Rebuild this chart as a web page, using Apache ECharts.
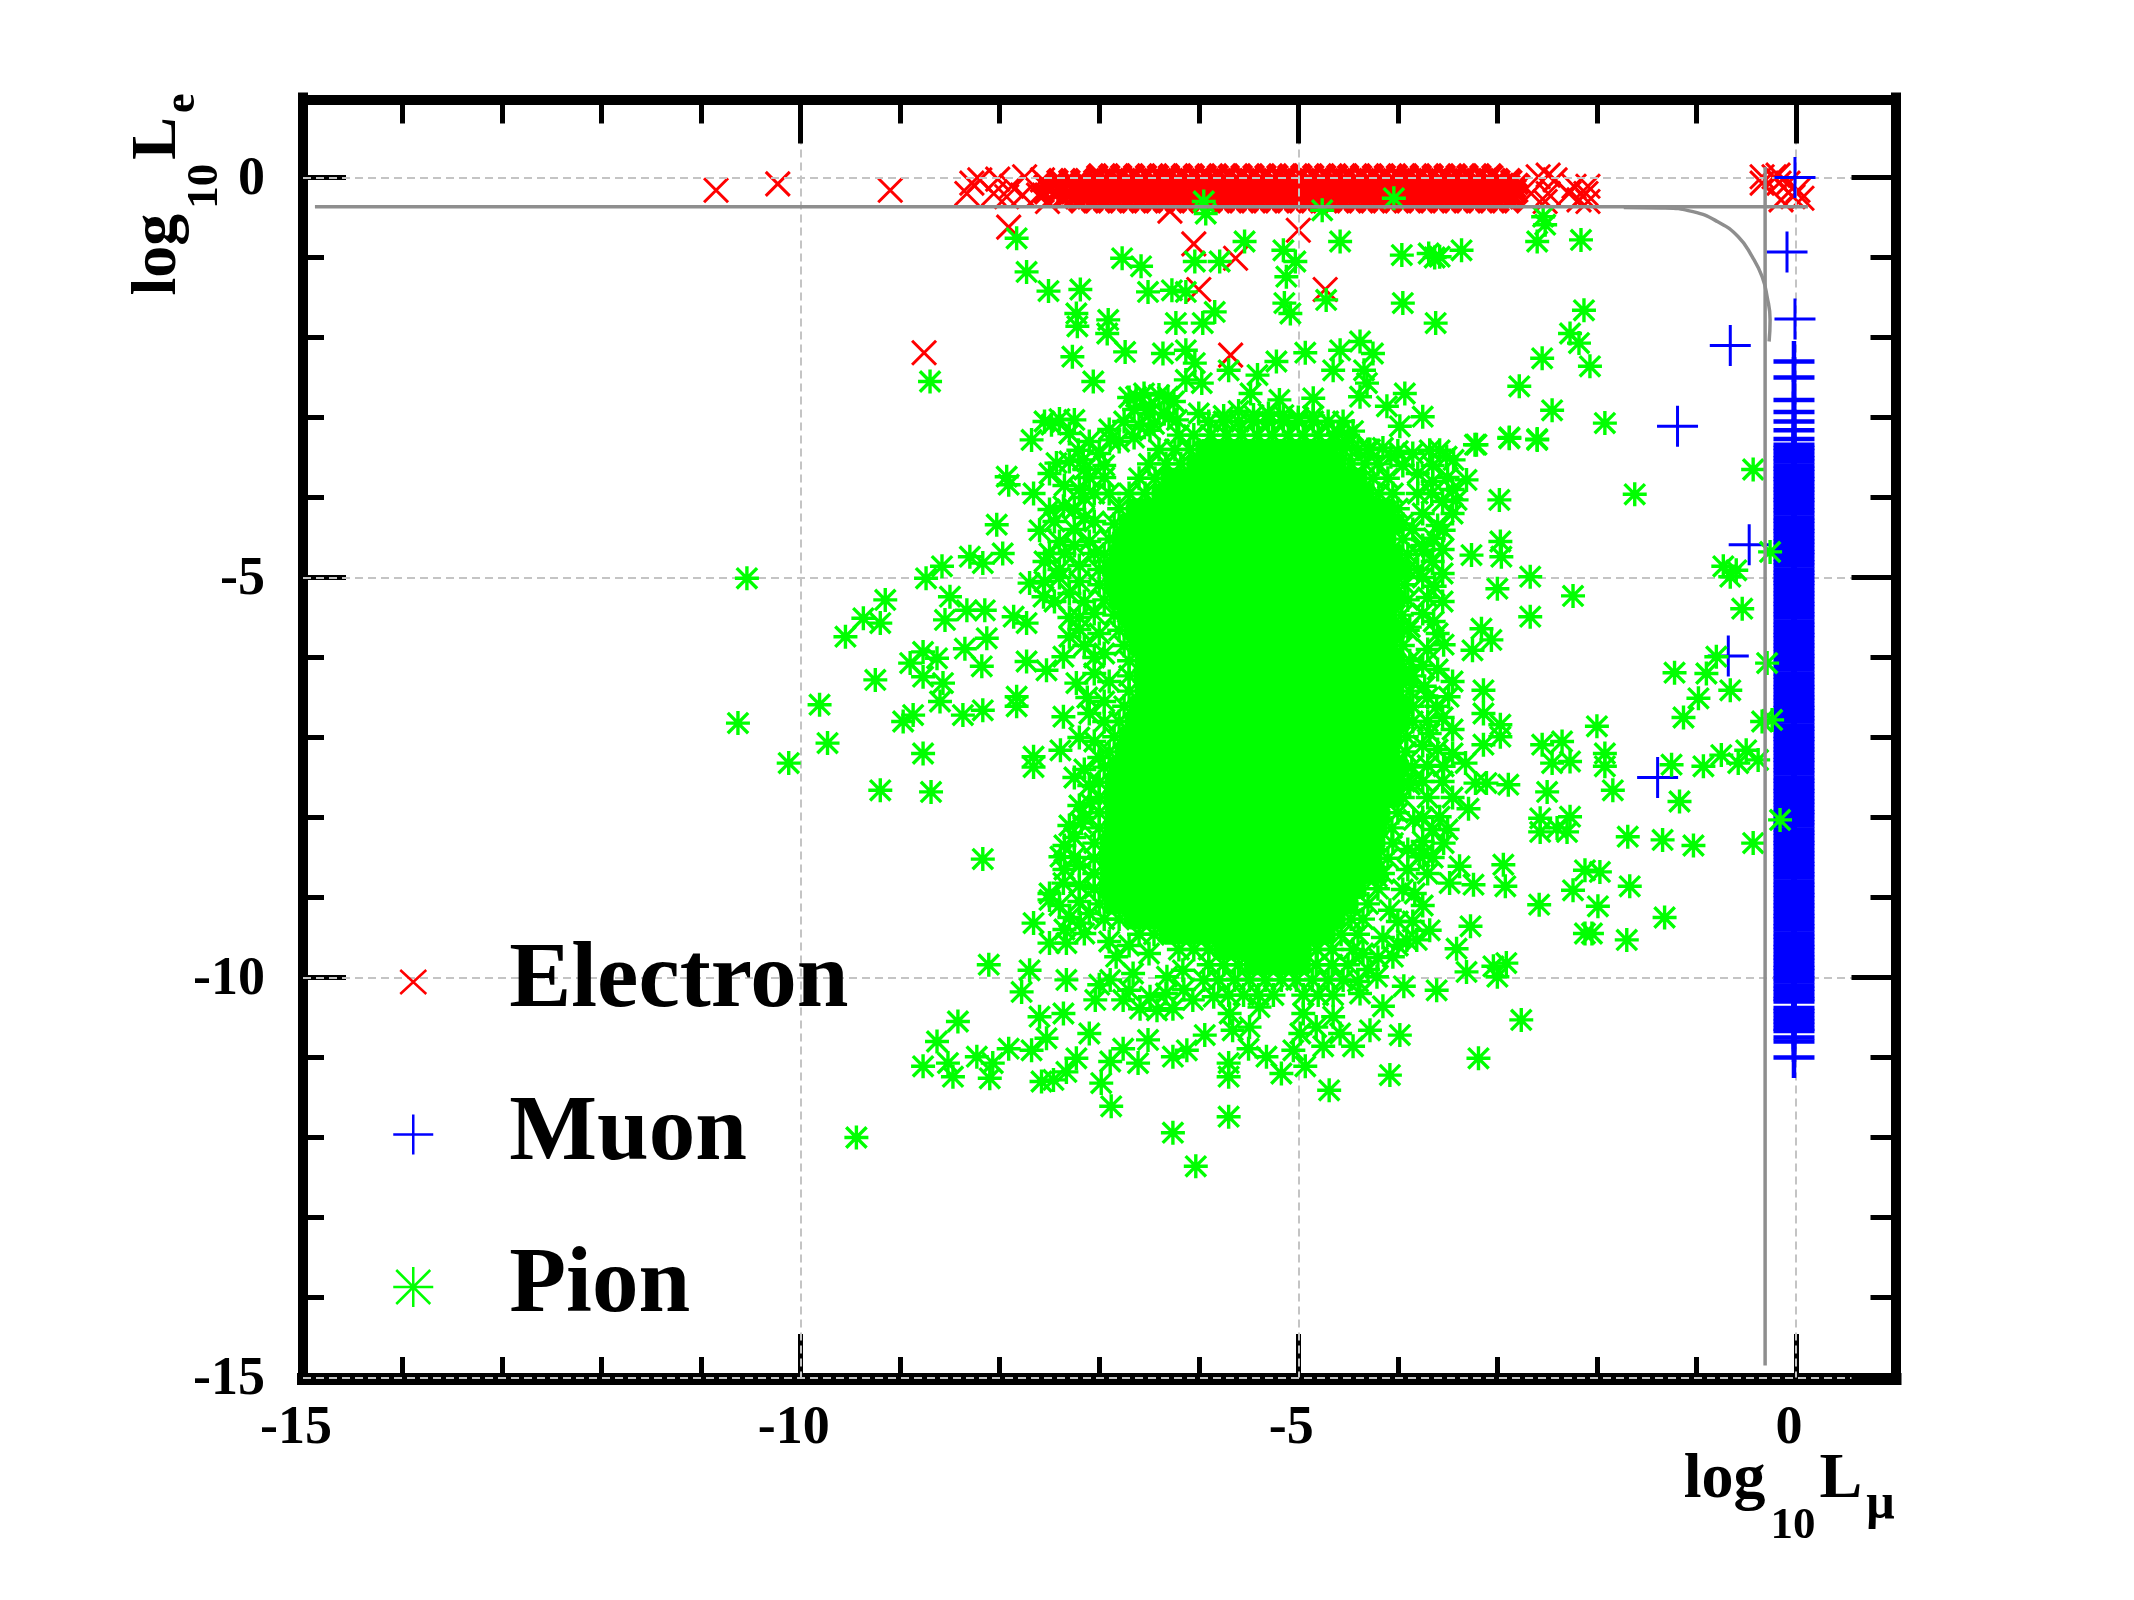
<!DOCTYPE html>
<html>
<head>
<meta charset="utf-8">
<title>Particle identification likelihoods</title>
<style>html,body{margin:0;padding:0;background:#fff}#chart{width:2134px;height:1600px}</style>
<script src="https://cdn.jsdelivr.net/npm/echarts@6/dist/echarts.min.js"></script>
</head>
<body>
<div id="chart"></div>
<script>
// Axis ticks
const majorTicks = [-15, -10, -5, 0];

// Electron: isolated candidates
const electronOutliers = [[-10.85,-0.16],[-10.23,-0.08],[-9.10,-0.16],[-7.91,-0.62],[-6.05,-0.83],[-5.63,-1.01],[-6.0,-1.40],[-5.0,-0.66],[-4.73,-1.40],[-8.76,-2.19],[-5.68,-2.22],[-6.29,-0.42],
  [-8.33,-0.20],[-8.28,-0.07],[-8.2,-0.03],[-8.06,-0.20],[-8.02,-0.02],[-7.88,-0.11],[-7.93,-0.24],[-7.75,0.01],[-7.77,-0.22],[-7.57,-0.03],[-7.61,-0.22],[-7.52,-0.30],
  [-2.59,0.01],[-2.49,0.03],[-2.66,-0.2],[-2.49,-0.2],[-2.42,-0.03],[-2.28,-0.2],[-2.23,-0.11],[-2.11,-0.2],[-2.09,-0.11],[-2.52,-0.30],[-2.18,-0.28],[-2.09,-0.30],
  [-0.34,0.01],[-0.34,-0.07],[-0.18,0.03],[-0.17,-0.07],[-0.08,-0.07],[0.02,-0.16],[-0.03,-0.24],[-0.15,-0.28],[0.06,-0.26],[-0.22,0.01]];

// Electron: the dense band just under log L_e = 0
const electronBandY = [0.04,-0.02,-0.08,-0.14,-0.20,-0.26,-0.31];
const electronBandX = [
  [-7.02,-6.9,-6.78,-6.65,-6.53,-6.41,-6.3,-6.17,-6.05,-5.93,-5.81,-5.7,-5.57,-5.45,-5.33,-5.21,-5.1,-4.97,-4.85,-4.73,-4.61,-4.5,-4.37,-4.25,-4.13,-4.01,-3.9,-3.77,-3.65,-3.53,-3.41,-3.3,-3.17,-3.05],
  [-7.42,-7.3,-7.18,-7.05,-6.94,-6.82,-6.7,-6.58,-6.46,-6.33,-6.22,-6.1,-5.98,-5.85,-5.74,-5.62,-5.5,-5.38,-5.26,-5.13,-5.02,-4.9,-4.78,-4.65,-4.54,-4.42,-4.3,-4.18,-4.06,-3.93,-3.82,-3.7,-3.58,-3.45,-3.34,-3.22,-3.1,-2.98,-2.86],
  [-7.55,-7.44,-7.31,-7.2,-7.08,-6.96,-6.84,-6.72,-6.6,-6.48,-6.36,-6.24,-6.12,-6.0,-5.88,-5.76,-5.64,-5.52,-5.4,-5.28,-5.16,-5.04,-4.92,-4.8,-4.68,-4.56,-4.44,-4.32,-4.2,-4.08,-3.96,-3.84,-3.72,-3.6,-3.48,-3.36,-3.24,-3.12,-3.0,-2.88,-2.78],
  [-7.5,-7.38,-7.25,-7.14,-7.02,-6.9,-6.78,-6.66,-6.54,-6.42,-6.3,-6.18,-6.06,-5.94,-5.82,-5.7,-5.58,-5.46,-5.34,-5.22,-5.1,-4.98,-4.86,-4.74,-4.62,-4.5,-4.38,-4.26,-4.14,-4.02,-3.9,-3.78,-3.66,-3.54,-3.42,-3.3,-3.18,-3.06,-2.94,-2.82],
  [-7.56,-7.44,-7.32,-7.2,-7.08,-6.96,-6.84,-6.72,-6.6,-6.48,-6.36,-6.24,-6.12,-6.0,-5.88,-5.76,-5.64,-5.52,-5.4,-5.28,-5.16,-5.04,-4.92,-4.8,-4.68,-4.56,-4.44,-4.32,-4.2,-4.08,-3.96,-3.84,-3.72,-3.6,-3.48,-3.36,-3.24,-3.12,-3.0,-2.9,-2.8],
  [-7.36,-7.25,-7.13,-7.01,-6.89,-6.77,-6.65,-6.53,-6.41,-6.29,-6.17,-6.05,-5.93,-5.81,-5.69,-5.57,-5.45,-5.33,-5.21,-5.09,-4.97,-4.85,-4.73,-4.61,-4.49,-4.37,-4.25,-4.13,-4.01,-3.89,-3.77,-3.65,-3.53,-3.41,-3.29,-3.17,-3.05,-2.93,-2.83],
  [-7.2,-7.07,-6.95,-6.83,-6.71,-6.59,-6.47,-6.35,-6.23,-6.11,-5.99,-5.87,-5.75,-5.63,-5.51,-5.39,-5.27,-5.15,-5.03,-4.91,-4.79,-4.67,-4.55,-4.43,-4.31,-4.19,-4.07,-3.95,-3.83,-3.71,-3.59,-3.47,-3.35,-3.23,-3.11,-2.99,-2.87]
];

// Muon: isolated candidates
const muonOutliers = [[-0.01,0],[-0.09,-0.93],[-0.01,-1.77],[-0.66,-2.10],[-1.19,-3.11],[-0.47,-4.59],[-0.68,-5.98],[-1.39,-7.5]];

// Muon: the column at log L_mu = 0
const muonColumnX = -0.02;
const muonColumnY = [-2.30,-2.50,-2.78,-2.93,-3.05,-3.16,-3.27,-3.34,-3.38,-3.42,-3.47,-3.51,-3.55,-3.60,-3.64,-3.68,-3.73,-3.77,-3.81,-3.86,-3.90,-3.94,-3.99,-4.03,-4.07,-4.12,-4.16,-4.20,-4.25,-4.29,-4.33,-4.38,-4.42,-4.46,-4.51,-4.55,-4.59,-4.64,-4.68,-4.72,-4.77,-4.81,-4.85,-4.90,-4.94,-4.98,-5.03,-5.07,-5.11,-5.16,-5.20,-5.24,-5.29,-5.33,-5.37,-5.42,-5.46,-5.50,-5.55,-5.59,-5.63,-5.68,-5.72,-5.76,-5.81,-5.85,-5.89,-5.94,-5.98,-6.02,-6.07,-6.11,-6.15,-6.20,-6.24,-6.28,-6.33,-6.37,-6.41,-6.46,-6.50,-6.54,-6.59,-6.63,-6.67,-6.72,-6.76,-6.80,-6.85,-6.89,-6.93,-6.98,-7.02,-7.06,-7.11,-7.15,-7.19,-7.24,-7.28,-7.32,-7.37,-7.41,-7.45,-7.50,-7.54,-7.58,-7.63,-7.67,-7.71,-7.76,-7.80,-7.84,-7.89,-7.93,-7.97,-8.02,-8.06,-8.10,-8.15,-8.19,-8.23,-8.28,-8.32,-8.36,-8.41,-8.45,-8.49,-8.54,-8.58,-8.62,-8.67,-8.71,-8.75,-8.80,-8.84,-8.88,-8.93,-8.97,-9.01,-9.06,-9.10,-9.14,-9.19,-9.23,-9.27,-9.32,-9.36,-9.40,-9.45,-9.49,-9.53,-9.58,-9.62,-9.66,-9.71,-9.75,-9.79,-9.84,-9.88,-9.92,-9.97,-10.01,-10.05,-10.10,-10.14,-10.18,-10.23,-10.27,-10.30,-10.38,-10.42,-10.46,-10.51,-10.55,-10.59,-10.64,-10.67,-10.75,-10.80,-11.0];

// Pion: scattered candidates around the main cloud
const pionUpper = [[-8.70,-2.55],[-7.83,-0.76],[-7.73,-1.18],[-7.51,-1.42],[-7.19,-1.40],[-7.23,-1.70],[-7.22,-1.86],[-7.27,-2.24],[-7.06,-2.55],[-6.91,-1.78],[-6.92,-1.95],[-6.74,-2.18],[-6.77,-1.01],[-6.58,-1.11],[-6.51,-1.43],[-6.27,-1.41],[-6.13,-1.43],[-6.23,-1.82],[-5.96,-1.82],[-5.84,-1.68],[-6.04,-1.05],[-5.79,-1.05],[-5.54,-0.80],[-5.95,-0.30],[-5.93,-0.45],[-4.76,-0.41],[-4.04,-0.26],[-5.15,-0.91],[-5.03,-1.05],[-5.12,-1.24],[-5.14,-1.57],[-5.08,-1.70],[-4.58,-0.80],[-4.72,-1.53],[-3.95,-1.57],[-3.96,-0.97],[-3.69,-0.95],[-3.63,-1.0],[-3.58,-0.99],[-3.36,-0.91],[-3.62,-1.82],[-2.54,-0.49],[-2.52,-0.59],[-2.60,-0.80],[-2.16,-0.78],[-2.13,-1.66],[-2.27,-1.95],[-2.18,-2.07],[-2.07,-2.36],[-2.55,-2.26],[-2.78,-2.61],[-2.45,-2.91],[-2.88,-3.26],[-2.60,-3.28],[-3.21,-3.34],
  [-6.36,-2.20],[-6.13,-2.16],[-6.04,-2.32],[-6.13,-2.53],[-5.97,-2.57],[-5.70,-2.41],[-5.22,-2.30],[-4.93,-2.19],[-4.58,-2.16],[-4.38,-2.05],[-4.25,-2.20],[-4.34,-2.41],[-4.65,-2.41],[-4.31,-2.57],[-3.93,-2.70],[-4.85,-2.76],[-4.38,-2.74],[-4.11,-2.86],[-3.75,-2.99],[-3.98,-3.11],[-5.41,-2.47],[-5.48,-2.70],[-5.19,-2.78],[-6.0,-2.95],[-6.49,-2.86],[-6.63,-2.74],[-6.31,-2.74],[-6.22,-3.03],[-7.25,-3.03],[-7.48,-3.09],[-7.68,-3.28],[-3.58,-3.41],[-3.44,-3.53],[-4.07,-3.49],[-4.52,-3.36],[-6.89,-3.28],[-6.49,-3.16],[-7.21,-3.41],[-7.43,-3.57],[-7.93,-3.74]];
const pionRight = [[-3.225,-3.34],[-2.88,-3.25],[-2.60,-3.27],[-1.92,-3.07],[-0.43,-3.65],[-1.62,-3.96],[-2.98,-4.03],[-3.26,-4.72],[-2.97,-4.55],[-2.96,-4.74],[-2.67,-4.99],[-3.0,-5.14],[-2.24,-5.23],[-2.67,-5.49],[-0.73,-4.86],[-0.60,-4.91],[-0.66,-4.99],[-0.26,-4.68],[-0.54,-5.39],[-3.16,-5.64],[-3.06,-5.78],[-3.25,-5.91],[-0.29,-6.07],[-1.22,-6.19],[-0.80,-5.99],[-0.90,-6.20],[-0.66,-6.41],[-0.98,-6.51],[-1.13,-6.75],[-3.14,-6.41],[-3.14,-6.70],[-2.97,-6.84],[-3.14,-7.09],[-2.97,-6.99],[-2.0,-6.86],[-2.55,-7.09],[-2.35,-7.05],[-2.45,-7.32],[-2.27,-7.30],[-1.92,-7.20],[-1.92,-7.36],[-1.25,-7.34],[-0.93,-7.36],[-0.75,-7.22],[-0.58,-7.32],[-0.50,-7.16],[-0.38,-7.28],[-0.34,-6.80],[-0.24,-6.78],[-2.89,-7.59],[-2.50,-7.68],[-1.84,-7.66],[-1.17,-7.80],[-0.16,-8.03],[-2.57,-8.01],[-2.57,-8.18],[-2.40,-8.13],[-2.27,-7.99],[-2.30,-8.18],[-1.69,-8.24],[-1.34,-8.28],[-1.03,-8.35],[-0.43,-8.32],[-2.94,-8.59],[-2.92,-8.86],[-2.12,-8.66],[-1.97,-8.68],[-1.67,-8.86],[-2.24,-8.91],
  [-3.31,-3.78],[-3.41,-4.03],[-3.51,-3.49],[-3.68,-3.41],[-3.66,-3.95],[-3.64,-4.51],[-3.54,-4.41],[-3.74,-4.66],[-3.63,-5.11],[-3.64,-5.55],[-3.54,-5.84],[-3.88,-5.62],[-3.49,-6.49],[-3.61,-6.61],[-3.73,-6.36],[-3.68,-6.95],[-3.54,-7.36],[-3.32,-7.32],[-3.22,-7.57],[-3.11,-7.57],[-3.29,-7.89],[-3.58,-7.99],[-3.88,-7.59],[-3.54,-8.32],[-3.38,-8.61],[-3.24,-8.84],[-3.74,-8.45],[-3.48,-8.82],[-3.84,-8.03],
  [-2.58,-9.09],[-1.99,-9.11],[-1.32,-9.25],[-2.12,-9.45],[-2.05,-9.45],[-1.70,-9.53],[-3.27,-9.36],[-3.41,-9.64],[-3.31,-9.93],[-2.91,-9.82],[-3.04,-9.86],[-3.0,-9.99],[-3.61,-10.16],[-2.76,-10.53],[-3.19,-11.01],[-4.08,-11.22],[-3.98,-10.72],[-4.28,-10.66],[-4.45,-10.86],[-3.68,-9.41],[-3.91,-9.53],[-4.05,-9.74],[-4.21,-9.99],[-4.38,-10.2],[-4.15,-10.36],[-3.94,-10.11],[-3.81,-9.53],[-3.83,-8.95],[-3.78,-8.49],[-4.21,-8.74],[-4.08,-9.16]];
const pionLower = [[-8.17,-8.52],[-9.44,-12.0],[-7.66,-9.32],[-7.39,-8.49],[-7.18,-8.07],[-7.50,-8.95],[-8.11,-9.84],[-7.70,-9.91],[-7.78,-10.18],[-7.33,-10.03],[-7.5,-9.57],[-7.33,-9.57],[-7.0,-10.09],[-7.04,-10.28],[-7.6,-10.49],[-7.36,-10.45],[-7.53,-10.76],[-7.68,-10.91],[-7.91,-10.89],[-8.42,-10.55],[-8.63,-10.80],[-8.77,-11.11],[-8.52,-11.07],[-8.47,-11.24],[-8.23,-10.99],[-8.07,-11.07],[-8.10,-11.26],[-7.58,-11.30],[-7.46,-11.28],[-7.33,-11.18],[-7.23,-11.01],[-6.98,-11.32],[-6.88,-11.61],[-6.89,-11.05],[-6.76,-10.89],[-7.10,-10.70],[-6.61,-11.07],[-6.51,-10.78],[-6.26,-10.99],[-6.12,-10.91],[-5.94,-10.72],[-5.70,-11.24],[-5.70,-11.07],[-6.26,-11.94],[-5.70,-11.74],[-6.03,-12.36],[-5.5,-10.89],[-5.32,-10.99],[-5.17,-11.2],[-5.05,-10.91],[-4.93,-11.11],[-4.69,-11.41],[-4.75,-10.86],[-4.58,-10.70],
  [-6.76,-10.28],[-6.59,-10.39],[-6.42,-10.41],[-6.26,-10.39],[-6.06,-10.28],[-5.85,-10.24],[-5.69,-10.45],[-5.66,-10.66],[-5.39,-10.37],[-5.49,-10.62],[-4.95,-10.45],[-4.82,-10.62],[-4.65,-10.49],[-4.98,-10.70],[-6.83,-9.74],[-6.89,-10.03],[-6.66,-9.95],[-6.32,-9.99],[-6.16,-9.91],[-6.49,-10.24],[-5.95,-10.03],[-6.7,-10.16],[-6.33,-10.2],[-6.15,-10.15],[-6.5,-9.7],[-6.9,-9.55],[-6.7,-9.6]];
const pionLeft = [[-10.54,-5.01],[-8.74,-5.01],[-8.58,-4.86],[-9.15,-5.28],[-9.37,-5.51],[-9.20,-5.57],[-9.55,-5.74],[-7.91,-3.84],[-8.03,-4.34],[-7.66,-3.95],[-8.30,-4.74],[-8.17,-4.82],[-7.97,-4.70],[-8.50,-5.24],[-8.55,-5.53],[-8.33,-5.41],[-8.15,-5.41],[-7.86,-5.49],[-7.73,-5.57],[-8.13,-5.76],[-8.35,-5.89],[-8.77,-5.93],[-8.90,-6.07],[-8.63,-6.01],[-8.77,-6.24],[-8.57,-6.32],[-9.25,-6.28],[-8.18,-6.11],[-7.73,-6.05],[-7.53,-6.16],[-7.83,-6.49],[-7.83,-6.61],[-9.81,-6.59],[-8.60,-6.55],[-8.37,-6.72],[-8.17,-6.66],[-8.87,-6.72],[-8.97,-6.80],[-10.63,-6.82],[-9.73,-7.07],[-10.12,-7.32],[-8.77,-7.20],[-7.66,-7.37],[-7.66,-7.24],[-9.20,-7.66],[-8.69,-7.68],
  [-7.23,-6.32],[-7.36,-6.74],[-7.39,-7.16],[-7.36,-5.99],[-7.50,-4.70],[-7.70,-5.07],[-7.60,-4.41],[-7.36,-4.11],[-7.50,-3.70],[-7.16,-3.53],[-7.56,-5.24],[-7.30,-5.74],[-7.50,-9.03],[-7.36,-8.82],[-7.09,-7.82],[-7.19,-9.32],[-7.4,-4.9],[-7.3,-5.2],[-7.25,-4.4],[-7.15,-4.0],[-7.1,-3.75],[-7.2,-5.5],[-7.05,-6.0],[-7.12,-6.5],[-7.2,-7.0],[-7.25,-7.5],[-7.3,-8.1],[-7.25,-8.5],[-6.95,-3.6],[-6.9,-3.95],[-7.05,-4.3]];

// Pion: the uneven rim of the main cloud
const pionFringeTop = [[-6.7,-2.75],[-6.55,-2.7],[-6.4,-2.72],[-6.25,-2.8],[-6.65,-2.9],[-6.5,-2.95],[-6.35,-2.95],[-6.75,-3.05],[-6.6,-3.1],[-6.45,-3.08],[-6.3,-3.0],[-6.9,-3.15],[-6.8,-3.3],[-6.65,-3.25],[-5.75,-2.98],[-5.6,-2.92],[-5.45,-2.97],[-5.3,-2.95],[-5.15,-2.97],[-5.0,-3.0],[-4.85,-2.98],[-4.6,-3.2],[-4.45,-3.17],[-4.55,-3.05]];
const pionFringeRight = [[-4.3,-3.4],[-4.15,-3.38],[-4.0,-3.42],[-3.85,-3.45],[-3.95,-3.6],[-3.8,-3.7],[-3.65,-3.6],[-3.5,-3.75],[-3.65,-3.8],[-3.45,-3.9],[-3.8,-3.95],[-3.55,-4.05],[-3.75,-4.2],[-3.45,-4.2],[-3.6,-4.35],[-3.85,-4.4],[-3.75,-4.6],[-3.55,-4.65],[-3.65,-4.8],[-3.8,-4.9],[-3.55,-4.95],[-3.75,-5.0],[-3.7,-5.25],[-3.55,-5.3],[-3.75,-5.45],[-3.6,-5.7],[-3.7,-5.9],[-3.75,-6.1],[-3.6,-6.15],[-3.45,-6.3],[-3.7,-6.5],[-3.55,-6.75],[-3.7,-6.8],[-3.45,-6.9],[-3.75,-7.1],[-3.6,-7.15],[-3.45,-7.2],[-3.7,-7.35],[-3.75,-7.55],[-3.55,-7.55],[-3.7,-7.75],[-3.45,-7.75],[-3.75,-8.0],[-3.65,-8.15],[-3.5,-8.15],[-3.75,-8.3],[-3.9,-8.4],[-3.65,-8.5],[-3.9,-8.65],[-3.7,-8.7],[-3.95,-8.9],[-3.75,-9.1],[-4.0,-9.3],[-3.85,-9.3],[-4.15,-9.5],[-4.0,-9.6],[-4.2,-9.75],[-4.3,-9.9],[-4.4,-10.05],[-4.35,-9.7]];
const pionFringeLeft = [[-7.55,-3.05],[-7.4,-3.02],[-7.3,-3.2],[-7.1,-3.3],[-7.3,-3.55],[-7.15,-3.65],[-7.0,-3.45],[-6.95,-3.75],[-7.35,-3.85],[-7.2,-3.9],[-7.05,-3.95],[-7.5,-4.15],[-7.25,-4.15],[-7.45,-4.3],[-7.15,-4.25],[-7.4,-4.55],[-7.25,-4.6],[-7.1,-4.55],[-7.55,-4.8],[-7.35,-4.7],[-7.2,-4.85],[-7.05,-4.7],[-7.4,-5.0],[-7.55,-5.05],[-7.2,-5.05],[-7.45,-5.3],[-7.15,-5.3],[-7.3,-5.5],[-7.05,-5.45],[-7.2,-5.65],[-7.0,-5.7],[-7.15,-5.85],[-6.95,-5.95],[-7.05,-6.2],[-6.9,-6.3],[-6.95,-6.55],[-7.1,-6.7],[-6.95,-6.8],[-7.05,-7.05],[-7.0,-7.25],[-7.15,-7.4],[-7.1,-7.6],[-7.2,-7.85],[-7.15,-8.0],[-7.25,-8.25],[-7.35,-8.35],[-7.2,-8.6],[-7.35,-8.65],[-7.2,-8.85],[-7.4,-9.1],[-7.2,-9.05],[-7.3,-9.25],[-7.1,-9.2],[-7.35,-9.4],[-7.15,-9.45]];

// Pion: the main cloud, one list of log L_mu values per log L_e row
const pionCoreY = [-3.05,-3.22,-3.40,-3.58,-3.76,-3.95,-4.14,-4.33,-4.52,-4.71,-4.90,-5.09,-5.28,-5.47,-5.66,-5.85,-6.04,-6.23,-6.42,-6.61,-6.80,-6.99,-7.18,-7.37,-7.56,-7.75,-7.94,-8.13,-8.32,-8.51,-8.70,-8.89,-9.08,-9.27,-9.46,-9.65,-9.84,-10.03,-10.22];
const pionCoreX = [
  [-5.9,-5.75,-5.6,-5.45,-5.3,-5.15,-5.0,-4.85,-4.7],
  [-6.2,-6.05,-5.88,-5.72,-5.57,-5.41,-5.26,-5.1,-4.95,-4.8,-4.65,-4.5],
  [-6.4,-6.24,-6.09,-5.93,-5.78,-5.63,-5.47,-5.32,-5.16,-5.01,-4.86,-4.7,-4.55,-4.4,-4.28],
  [-6.5,-6.33,-6.18,-6.02,-5.86,-5.7,-5.55,-5.39,-5.24,-5.08,-4.93,-4.77,-4.62,-4.47,-4.33,-4.2],
  [-6.6,-6.44,-6.28,-6.12,-5.96,-5.81,-5.65,-5.49,-5.34,-5.18,-5.02,-4.87,-4.71,-4.56,-4.41,-4.25,-4.1],
  [-6.7,-6.54,-6.37,-6.21,-6.06,-5.9,-5.74,-5.58,-5.43,-5.27,-5.12,-4.96,-4.8,-4.65,-4.49,-4.34,-4.19,-4.05],
  [-6.8,-6.63,-6.46,-6.3,-6.14,-5.98,-5.83,-5.67,-5.51,-5.35,-5.2,-5.04,-4.88,-4.73,-4.57,-4.42,-4.27,-4.12,-4.0],
  [-6.85,-6.7,-6.55,-6.39,-6.23,-6.07,-5.91,-5.75,-5.6,-5.44,-5.28,-5.12,-4.97,-4.81,-4.65,-4.5,-4.34,-4.19,-4.05,-3.95],
  [-6.9,-6.76,-6.62,-6.46,-6.31,-6.15,-5.99,-5.83,-5.68,-5.52,-5.36,-5.21,-5.05,-4.89,-4.74,-4.58,-4.42,-4.27,-4.12,-3.95],
  [-6.95,-6.8,-6.68,-6.54,-6.38,-6.23,-6.07,-5.91,-5.76,-5.6,-5.44,-5.29,-5.13,-4.97,-4.82,-4.66,-4.5,-4.35,-4.2,-4.05,-3.9],
  [-7.0,-6.86,-6.72,-6.59,-6.45,-6.3,-6.15,-5.99,-5.84,-5.68,-5.52,-5.37,-5.21,-5.05,-4.9,-4.74,-4.58,-4.43,-4.28,-4.12,-3.98,-3.9],
  [-7.0,-6.85,-6.7,-6.55,-6.41,-6.27,-6.11,-5.95,-5.8,-5.64,-5.48,-5.33,-5.17,-5.01,-4.86,-4.7,-4.54,-4.39,-4.24,-4.08,-3.93],
  [-6.95,-6.8,-6.65,-6.51,-6.37,-6.21,-6.06,-5.9,-5.75,-5.59,-5.43,-5.28,-5.12,-4.96,-4.81,-4.65,-4.49,-4.34,-4.19,-4.03,-3.9],
  [-6.85,-6.71,-6.57,-6.42,-6.28,-6.13,-5.98,-5.82,-5.67,-5.51,-5.35,-5.2,-5.04,-4.88,-4.73,-4.57,-4.41,-4.26,-4.11,-3.96],
  [-6.8,-6.65,-6.5,-6.35,-6.2,-6.05,-5.9,-5.75,-5.59,-5.43,-5.28,-5.12,-4.96,-4.81,-4.65,-4.49,-4.34,-4.18,-4.03,-3.9],
  [-6.75,-6.6,-6.44,-6.29,-6.13,-5.98,-5.82,-5.67,-5.51,-5.35,-5.2,-5.04,-4.88,-4.73,-4.57,-4.41,-4.26,-4.1,-3.95],
  [-6.7,-6.54,-6.38,-6.22,-6.07,-5.91,-5.75,-5.6,-5.44,-5.28,-5.13,-4.97,-4.81,-4.66,-4.5,-4.34,-4.19,-4.03,-3.88],
  [-6.7,-6.55,-6.4,-6.25,-6.1,-5.95,-5.8,-5.64,-5.48,-5.33,-5.17,-5.01,-4.86,-4.7,-4.54,-4.39,-4.23,-4.08,-3.92,-3.85],
  [-6.7,-6.54,-6.38,-6.23,-6.07,-5.91,-5.76,-5.6,-5.44,-5.29,-5.13,-4.97,-4.82,-4.66,-4.5,-4.35,-4.19,-4.04,-3.88],
  [-6.75,-6.6,-6.45,-6.3,-6.15,-6.0,-5.84,-5.68,-5.53,-5.37,-5.21,-5.06,-4.9,-4.74,-4.59,-4.43,-4.27,-4.12,-3.97,-3.85],
  [-6.8,-6.64,-6.48,-6.33,-6.17,-6.01,-5.86,-5.7,-5.54,-5.39,-5.23,-5.07,-4.92,-4.76,-4.6,-4.45,-4.29,-4.14,-3.98,-3.85],
  [-6.85,-6.7,-6.55,-6.4,-6.25,-6.09,-5.94,-5.78,-5.62,-5.47,-5.31,-5.15,-5.0,-4.84,-4.68,-4.53,-4.37,-4.22,-4.06,-3.91],
  [-6.9,-6.74,-6.58,-6.42,-6.27,-6.11,-5.95,-5.8,-5.64,-5.48,-5.33,-5.17,-5.01,-4.86,-4.7,-4.54,-4.39,-4.23,-4.08,-3.92],
  [-6.95,-6.8,-6.65,-6.5,-6.34,-6.19,-6.03,-5.87,-5.72,-5.56,-5.4,-5.25,-5.09,-4.93,-4.78,-4.62,-4.46,-4.31,-4.15,-4.0,-3.86],
  [-7.0,-6.84,-6.68,-6.52,-6.37,-6.21,-6.05,-5.9,-5.74,-5.58,-5.43,-5.27,-5.11,-4.96,-4.8,-4.64,-4.49,-4.33,-4.18,-4.03,-3.9],
  [-7.0,-6.85,-6.7,-6.55,-6.4,-6.24,-6.09,-5.93,-5.77,-5.62,-5.46,-5.3,-5.15,-4.99,-4.83,-4.68,-4.52,-4.36,-4.21,-4.06,-3.95],
  [-7.0,-6.84,-6.68,-6.53,-6.37,-6.21,-6.06,-5.9,-5.74,-5.59,-5.43,-5.27,-5.12,-4.96,-4.8,-4.65,-4.49,-4.33,-4.18,-4.0],
  [-7.0,-6.85,-6.7,-6.55,-6.4,-6.25,-6.09,-5.93,-5.78,-5.62,-5.46,-5.31,-5.15,-4.99,-4.84,-4.68,-4.52,-4.37,-4.21,-4.06],
  [-7.05,-6.89,-6.73,-6.58,-6.42,-6.26,-6.11,-5.95,-5.79,-5.64,-5.48,-5.32,-5.17,-5.01,-4.85,-4.7,-4.54,-4.38,-4.23,-4.05],
  [-7.05,-6.9,-6.75,-6.6,-6.45,-6.29,-6.14,-5.98,-5.82,-5.67,-5.51,-5.35,-5.2,-5.04,-4.88,-4.73,-4.57,-4.41,-4.26,-4.1],
  [-7.05,-6.89,-6.73,-6.58,-6.42,-6.26,-6.11,-5.95,-5.79,-5.64,-5.48,-5.32,-5.17,-5.01,-4.85,-4.7,-4.54,-4.38,-4.23,-4.15],
  [-7.05,-6.9,-6.75,-6.6,-6.45,-6.3,-6.14,-5.98,-5.83,-5.67,-5.51,-5.36,-5.2,-5.04,-4.89,-4.73,-4.57,-4.42,-4.2],
  [-7.0,-6.85,-6.7,-6.54,-6.38,-6.23,-6.07,-5.91,-5.76,-5.6,-5.44,-5.29,-5.13,-4.97,-4.82,-4.66,-4.5,-4.3],
  [-6.95,-6.8,-6.65,-6.5,-6.35,-6.19,-6.04,-5.88,-5.72,-5.57,-5.41,-5.25,-5.1,-4.94,-4.78,-4.63,-4.47,-4.35],
  [-6.6,-6.45,-6.3,-6.14,-5.98,-5.83,-5.67,-5.51,-5.36,-5.2,-5.04,-4.89,-4.73,-4.57,-4.4],
  [-6.2,-6.05,-5.9,-5.75,-5.6,-5.44,-5.28,-5.13,-4.97,-4.81,-4.66,-4.45],
  [-5.9,-5.75,-5.6,-5.44,-5.29,-5.13,-4.98,-4.82,-4.66,-4.5],
  [-5.8,-5.64,-5.49,-5.33,-5.17,-5.02,-4.86,-4.7,-4.55],
  [-5.7,-5.55,-5.4,-5.25,-4.95,-4.8,-4.65]
];

// Selection contour
const cutHorizontal = [[-14.88,-0.365],[0.12,-0.365]];
const cutVertical = [[-0.31,0.13],[-0.31,-14.85]];
const cutCorner = [[-1.73,-0.375],[-1.35,-0.38],[-1.035,-0.427],[-0.79,-0.55],[-0.58,-0.74],[-0.44,-0.99],[-0.34,-1.24],[-0.29,-1.49],[-0.26,-1.78],[-0.27,-2.05]];

const serif = 'Liberation Serif';
const X_MARK = 'path://M1 1L19 19M1 19L19 1';
const PLUS_MARK = 'path://M10 0L10 20M0 10L20 10';
const STAR_MARK = 'path://M10 0L10 20M0 10L20 10M1.5 1.5L18.5 18.5M1.5 18.5L18.5 1.5';
// Zero-length corners pad the legend cross so it draws smaller than the 40px legend cell
const X_LEGEND = 'path://M0 0L0 0M40 40L40 40M7 8L33 32M7 32L33 8';

const bandData = electronBandY.flatMap((y, i) => electronBandX[i].map(x => [x, y]));
const columnData = muonColumnY.map(y => [muonColumnX, y]);

// The outer entries of each cloud row keep the fine stroke and stay mottled; the interior
// overlaps into a solid mass. The rim is deeper near the top and bottom so the mass stays domed.
const lastCoreRow = pionCoreY.length - 1;
const rimDepth = (i) => (i <= 3 || i >= lastCoreRow - 3) ? 3 : (i <= 5 || i >= lastCoreRow - 5) ? 2 : 1;
const isRim = (i, j) => i <= 1 || i >= lastCoreRow - 1 || j < rimDepth(i) || j >= pionCoreX[i].length - rimDepth(i);
const cloudInner = pionCoreY.flatMap((y, i) => pionCoreX[i].filter((x, j) => !isRim(i, j)).map(x => [x, y]));
const cloudRim = pionCoreY.flatMap((y, i) => pionCoreX[i].filter((x, j) => isRim(i, j)).map(x => [x, y]));
const pionScattered = pionUpper.concat(pionRight, pionLower, pionLeft, pionFringeTop, pionFringeRight, pionFringeLeft, cloudRim);

const plotRect = {left: 303, top: 97.5, width: 1592.5, height: 1280};
const frameLine = {show: true, onZero: false, lineStyle: {color: '#000', width: 10, cap: 'square'}};
const noLine = {show: false, onZero: false};
const blackTick = (length) => ({lineStyle: {color: '#000', width: 5}, length, inside: true, show: true});
const hiddenLabels = {show: false};

const mainGlyph = {fontFamily: serif, fontWeight: 'bold', fontSize: 64, color: '#000'};
const xNameRich = {
  m: mainGlyph,
  s: {fontFamily: serif, fontWeight: 'bold', fontSize: 45, color: '#000', padding: [92, 4, 0, 5]},
  u: {fontFamily: serif, fontWeight: 'bold', fontSize: 50, color: '#000', padding: [50, 0, 0, 4]}
};
const yNameRich = {
  m: mainGlyph,
  s: {fontFamily: serif, fontWeight: 'bold', fontSize: 45, color: '#000', padding: [94, 4, 0, 5]},
  e: {fontFamily: serif, fontWeight: 'bold', fontSize: 44, color: '#000', padding: [48, 0, 0, 4]}
};

function valueAxis(extra) {
  return Object.assign({type: 'value', min: -15, max: 1, splitLine: {show: false}, axisLabel: hiddenLabels}, extra);
}
const tickLabel = {show: true, customValues: majorTicks, fontFamily: serif, fontWeight: 'bold', fontSize: 54, color: '#000'};
const gridDash = {show: true, lineStyle: {color: '#c4c4c4', width: 2, type: [8, 5]}};

const xAxes = [
  valueAxis({gridIndex: 0, position: 'bottom', offset: 1.5, z: 1, axisLine: Object.assign({}, frameLine, {lineStyle: {color: '#000', width: 12, cap: 'square'}}),
    axisTick: Object.assign(blackTick(45), {customValues: majorTicks}),
    axisLabel: Object.assign({}, tickLabel, {margin: 23, padding: [0, 14, 0, 0]}),
    name: '{m|log}{s|10}{m|L}{u|μ}', nameLocation: 'end', nameGap: -1, nameMoveOverlap: false,
    nameTextStyle: {rich: xNameRich, align: 'right', verticalAlign: 'top', padding: [33, 0, 0, 0]}}),
  valueAxis({gridIndex: 0, position: 'top', offset: -2, z: 7, axisLine: frameLine, axisTick: Object.assign(blackTick(44), {customValues: majorTicks})}),
  valueAxis({gridIndex: 1, position: 'bottom', offset: 1.5, z: 1, interval: 1, axisLine: noLine, axisTick: blackTick(22)}),
  valueAxis({gridIndex: 1, position: 'top', offset: -2, z: 7, interval: 1, axisLine: noLine, axisTick: blackTick(24)}),
  valueAxis({gridIndex: 2, position: 'bottom', z: 3, axisLine: noLine, axisTick: {show: false, customValues: [-10, -5, 0]}, splitLine: gridDash})
];
const yAxes = [
  valueAxis({gridIndex: 0, position: 'left', z: 1, axisLine: frameLine, axisTick: Object.assign(blackTick(43), {customValues: majorTicks}),
    axisLabel: Object.assign({}, tickLabel, {margin: 38, verticalAlign: 'top', lineHeight: 6}),
    name: '{m|log}{s|10}{m|L}{e|e}', nameLocation: 'end', nameRotate: 90, nameGap: 4, nameMoveOverlap: false,
    nameTextStyle: {rich: yNameRich, align: 'right', verticalAlign: 'bottom', padding: [0, 0, 75, 0]}}),
  valueAxis({gridIndex: 0, position: 'right', z: 7, axisLine: frameLine, axisTick: Object.assign(blackTick(44), {customValues: majorTicks})}),
  valueAxis({gridIndex: 1, position: 'left', z: 1, interval: 1, axisLine: noLine, axisTick: blackTick(21)}),
  valueAxis({gridIndex: 1, position: 'right', z: 7, interval: 1, axisLine: noLine, axisTick: blackTick(25)}),
  valueAxis({gridIndex: 2, position: 'left', z: 3, axisLine: noLine, axisTick: {show: false, customValues: majorTicks}, splitLine: gridDash})
];

function pointSeries(name, data, symbol, symbolSize, color, strokeWidth, z) {
  return {type: 'scatter', name, data, symbol, symbolSize, z, silent: true, progressive: 0, clip: false,
    itemStyle: {color: 'transparent', borderColor: color, borderWidth: strokeWidth, opacity: 1}};
}
function cutSeries(name, data, smooth) {
  return {type: 'line', name, data, xAxisIndex: 0, yAxisIndex: 0, symbol: 'none', smooth, silent: true, z: 6,
    lineStyle: {color: '#8e8e8e', width: 3.5}};
}

const chart = echarts.init(document.getElementById('chart'), null, {renderer: 'canvas'});
chart.setOption({
  animation: false,
  backgroundColor: '#ffffff',
  grid: [plotRect, plotRect, plotRect].map(r => Object.assign({containLabel: false}, r)),
  xAxis: xAxes,
  yAxis: yAxes,
  legend: {
    left: 387, top: 923, orient: 'vertical', itemWidth: 40, itemHeight: 40, itemGap: 44.5, z: 8, selectedMode: false,
    textStyle: {fontFamily: serif, fontWeight: 'bold', fontSize: 93, color: '#000', lineHeight: 100, padding: [8, 0, 0, 71]},
    data: [
      {name: 'Electron', icon: X_LEGEND, itemStyle: {color: 'transparent', borderColor: '#ff0000', borderWidth: 2.5}},
      {name: 'Muon', icon: PLUS_MARK, itemStyle: {color: 'transparent', borderColor: '#0000ff', borderWidth: 2.5}},
      {name: 'Pion', icon: STAR_MARK, itemStyle: {color: 'transparent', borderColor: '#00ff00', borderWidth: 2.5}}
    ]
  },
  series: [
    pointSeries('Electron', electronOutliers, X_MARK, 24, '#ff0000', 3, 2),
    pointSeries('Electron', bandData, X_MARK, 19, '#ff0000', 6, 2),
    pointSeries('Muon', muonOutliers, PLUS_MARK, 41, '#0000ff', 3, 4),
    pointSeries('Muon', columnData, PLUS_MARK, 41, '#0000ff', 4.5, 4),
    pointSeries('Pion', pionScattered, STAR_MARK, 24, '#00ff00', 3.4, 5),
    pointSeries('Pion', cloudInner, STAR_MARK, 21, '#00ff00', 8, 5),
    cutSeries('Cut line', cutHorizontal, false),
    cutSeries('Cut boundary', cutVertical, false),
    cutSeries('Cut corner', cutCorner, 0.5)
  ]
});
</script>
</body>
</html>
